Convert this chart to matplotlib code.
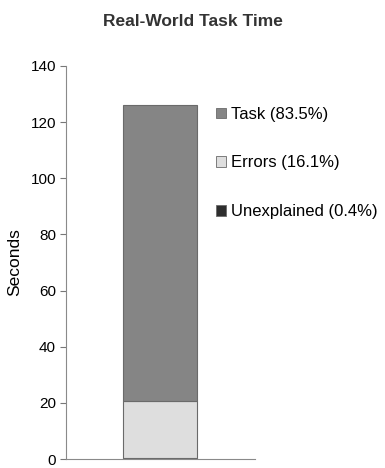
import matplotlib
matplotlib.use("Agg")
import matplotlib.pyplot as plt
from matplotlib.patches import Patch

plt.rcParams["font.family"] = ["Liberation Sans", "DejaVu Sans"]

# stacked segments, bottom to top
segments = ["Unexplained", "Errors", "Task"]
seconds = [0.5, 20.3, 105.2]
shares = [0.4, 16.1, 83.5]
colors = ["#2e2e2e", "#dedede", "#858585"]

fig = plt.figure(figsize=(3.85, 4.68), dpi=100)
ax = fig.add_axes([0.171, 0.019, 0.491, 0.84])

bottom = 0.0
for name, val, col in zip(segments, seconds, colors):
    ax.bar(0, val, width=0.39, bottom=bottom, color=col,
           edgecolor="#6a6a6a", linewidth=0.8)
    bottom += val

ax.set_xlim(-0.5, 0.5)
ax.set_ylim(0, 140)
ax.set_yticks(range(0, 141, 20))
ax.set_xticks([])
ax.tick_params(axis="y", labelsize=11, length=4, color="#777777", pad=3)
for side in ("top", "right"):
    ax.spines[side].set_visible(False)
for side in ("left", "bottom"):
    ax.spines[side].set_color("#8a8a8a")
    ax.spines[side].set_linewidth(0.8)
ax.set_ylabel("Seconds", fontsize=12.5, labelpad=6)

fig.text(0.5, 0.97, "Real-World Task Time", ha="center", va="top",
         fontsize=12.5, fontweight="bold", color="#333333")

handles = [Patch(facecolor=c, edgecolor="#6a6a6a", linewidth=0.6,
                 label=f"{n} ({s}%)")
           for n, s, c in zip(segments, shares, colors)][::-1]
fig.legend(handles=handles, loc="upper left", bbox_to_anchor=(0.543, 0.786),
           frameon=False, fontsize=12, handlelength=0.6, handleheight=0.6,
           handletextpad=0.3, labelspacing=2.02, borderaxespad=0)

fig.savefig("out.png", dpi=100)
